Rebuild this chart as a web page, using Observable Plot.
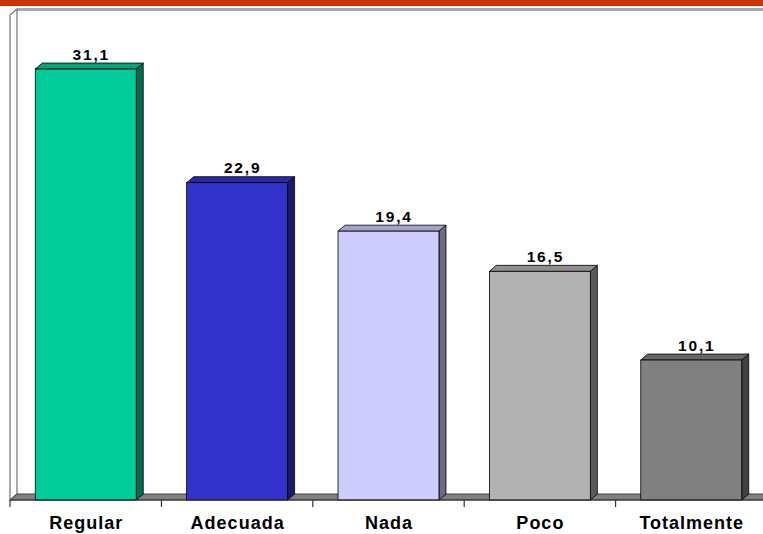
<!DOCTYPE html>
<html>
<head>
<meta charset="utf-8">
<script src="https://cdn.jsdelivr.net/npm/d3@7"></script>
<script src="https://cdn.jsdelivr.net/npm/@observablehq/plot@0.6"></script>
<style>
  body { margin: 0; background: #fff; overflow: hidden; }
  #wrap { position: relative; width: 763px; height: 534px; }
  #wrap svg { display: block; }
  #band { position: absolute; left: 0; top: 0; width: 763px; height: 6px; background: #CC3300; z-index: 2; }
  g[aria-label^="x-axis"] text { font-size: 18px; font-weight: bold; letter-spacing: 1px; fill: #000; }
  g[aria-label="text"] text { letter-spacing: 1.8px; }
</style>
</head>
<body>
<div id="wrap"><div id="band"></div></div>
<script>
const categories = ["Regular", "Adecuada", "Nada", "Poco", "Totalmente"];
const values = [31.1, 22.9, 19.4, 16.5, 10.1];
const frontColors = ["#00CC99", "#3333CC", "#CCCCFF", "#B2B2B2", "#808080"];
const topColors = ["#00A37A", "#2929A3", "#A3A3CC", "#8E8E8E", "#666666"];
const sideColors = ["#006B50", "#1A1A6B", "#6B6B87", "#5A5A5A", "#404040"];
const yMax = 35;

const data = categories.map((c, i) => ({cat: c, value: values[i], front: frontColors[i], top: topColors[i], side: sideColors[i]}));
const DX = 7, DY = 6;

function bandOf(x) { return typeof x.bandwidth === "function" ? x.bandwidth() : x.bandwidth; }
function stepOf(x) { return typeof x.step === "function" ? x.step() : x.step; }

// back walls and floor
function walls(index, scales, values, dims) {
  const y = scales.y;
  const y0 = y(0), yT = y(yMax);
  const L = dims.marginLeft, R = dims.width + 20;
  const g = d3.create("svg:g");
  g.append("path").attr("d", `M${L},${y0}L${L},${yT}L${L+DX},${yT-DY}L${L+DX},${y0-DY}Z`)
    .attr("fill", "#fff").attr("stroke", "#707070").attr("stroke-width", 1.2);
  g.append("path").attr("d", `M${L+DX},${yT-DY}L${R},${yT-DY}`).attr("stroke", "#555").attr("stroke-width", 1.2);
  g.append("path").attr("d", `M${L+DX},${yT-DY+1.5}L${R},${yT-DY+1.5}`).attr("stroke", "#aaa").attr("stroke-width", 1);
  g.append("path").attr("d", `M${L},${y0}L${R},${y0}L${R},${y0-DY}L${L+DX},${y0-DY}Z`)
    .attr("fill", "#808080").attr("stroke", "#404040").attr("stroke-width", 1);
  return g.node();
}

// 3D side and top faces of bars
function faces(index, scales) {
  const x = scales.x, y = scales.y;
  const bw = bandOf(x);
  const g = d3.create("svg:g");
  data.forEach(d => {
    const x1 = x(d.cat), x2 = x1 + bw, yv = y(d.value), y0 = y(0);
    g.append("path").attr("d", `M${x2},${y0}L${x2},${yv}L${x2+DX},${yv-DY}L${x2+DX},${y0-DY}Z`)
      .attr("fill", d.side).attr("stroke", "#000").attr("stroke-width", 0.8).attr("stroke-linejoin", "round");
    g.append("path").attr("d", `M${x1},${yv}L${x1+DX},${yv-DY}L${x2+DX},${yv-DY}L${x2},${yv}Z`)
      .attr("fill", d.top).attr("stroke", "#000").attr("stroke-width", 0.8).attr("stroke-linejoin", "round");
  });
  return g.node();
}

// front axis line and category boundary ticks
function axisLine(index, scales, values, dims) {
  const x = scales.x, y = scales.y;
  const y0 = y(0), L = dims.marginLeft;
  const st = stepOf(x), bw = bandOf(x);
  const g = d3.create("svg:g").attr("stroke", "#333").attr("stroke-width", 1.2);
  g.append("path").attr("d", `M${L},${y0}L${dims.width + 20},${y0}`);
  g.append("path").attr("d", `M${L},${y0}L${L},${y0+7}`);
  categories.slice(1).forEach(c => {
    const xb = x(c) + bw / 2 - st / 2;
    g.append("path").attr("d", `M${xb},${y0}L${xb},${y0+7}`);
  });
  return g.node();
}

const fmt = v => v.toFixed(1).replace(".", ",");

const chart = Plot.plot({
  width: 763,
  height: 534,
  marginTop: 15,
  marginBottom: 34,
  marginLeft: 10,
  marginRight: 0,
  x: {domain: categories, range: [10, 767], paddingInner: 0.333, paddingOuter: 0.167, align: 0.5, round: false, tickSize: 0, tickPadding: 16, label: null},
  y: {domain: [0, yMax], axis: null},
  color: {type: "identity"},
  style: {fontFamily: "'Liberation Sans', Arial, sans-serif", fontSize: "18px", fontWeight: "bold", color: "#000", background: "#fff", overflow: "visible"},
  marks: [
    walls,
    faces,
    Plot.barY(data, {x: "cat", y: "value", fill: "front", stroke: "#000", strokeWidth: 0.8}),
    axisLine,
    Plot.text(data, {x: "cat", y: "value", text: d => fmt(d.value), dx: 5, dy: -10, lineAnchor: "bottom", fontSize: 15.5, fontWeight: "bold", fill: "#000"})
  ]
});
document.getElementById("wrap").appendChild(chart);
</script>
</body>
</html>
